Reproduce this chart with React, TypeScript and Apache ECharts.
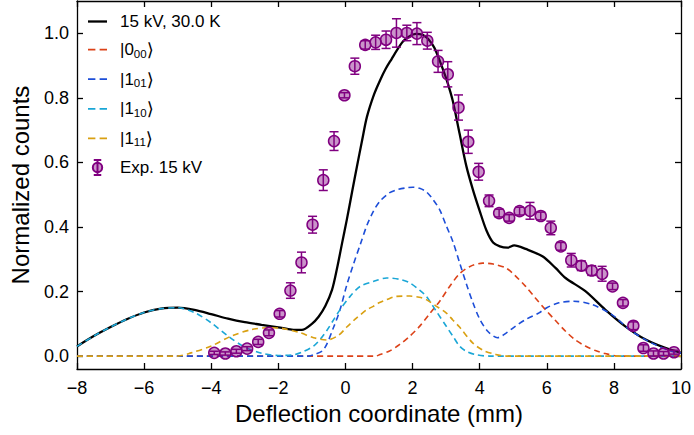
import React, { useEffect, useRef } from "react";
import * as echarts from "echarts";

// ---------- data ----------
const xTicks = [-8, -6, -4, -2, 0, 2, 4, 6, 8, 10];
const yTicks = [0, 0.2, 0.4, 0.6, 0.8, 1.0];

const totalName = "15 kV, 30.0 K";
const totalX = [-8, -7.5, -7, -6.5, -6, -5.5, -5, -4.5, -4, -3.5, -3, -2.5, -2, -1.6, -1.3, -1.0, -0.8, -0.6, -0.4, -0.25, -0.1, 0.04, 0.2, 0.34, 0.5, 0.64, 0.85, 1.03, 1.2, 1.38, 1.55, 1.72, 1.9, 2.1, 2.3, 2.46, 2.65, 2.9, 3.05, 3.2, 3.4, 3.6, 3.8, 4.0, 4.2, 4.4, 4.6, 4.83, 5.03, 5.37, 5.87, 6.26, 6.56, 7.15, 7.74, 8.33, 8.93, 9.51, 10];
const totalY = [0.030, 0.062, 0.090, 0.115, 0.135, 0.147, 0.150, 0.143, 0.130, 0.116, 0.105, 0.097, 0.089, 0.082, 0.081, 0.100, 0.122, 0.155, 0.205, 0.272, 0.350, 0.422, 0.510, 0.586, 0.670, 0.741, 0.810, 0.854, 0.890, 0.921, 0.950, 0.975, 0.990, 0.998, 0.995, 0.983, 0.955, 0.890, 0.845, 0.790, 0.690, 0.590, 0.515, 0.450, 0.390, 0.352, 0.340, 0.336, 0.343, 0.332, 0.309, 0.273, 0.242, 0.201, 0.144, 0.093, 0.052, 0.026, 0.010];

const s000Name = "|0\u2080\u2080\u27E9";
const s000X = [-8, 0.9, 1.03, 1.3, 1.62, 1.9, 2.21, 2.5, 2.81, 3.1, 3.4, 3.7, 4.09, 4.4, 4.78, 5.05, 5.37, 5.66, 5.96, 6.26, 6.56, 6.85, 7.15, 7.45, 7.74, 8.15, 10];
const s000Y = [0, 0, 0.005, 0.015, 0.036, 0.060, 0.092, 0.130, 0.170, 0.215, 0.255, 0.277, 0.288, 0.285, 0.273, 0.250, 0.216, 0.180, 0.144, 0.110, 0.077, 0.050, 0.031, 0.017, 0.008, 0, 0];

const s101Name = "|1\u2080\u2081\u27E9";
const s101X = [-8, -1.1, -0.95, -0.65, -0.35, -0.16, 0.04, 0.24, 0.44, 0.64, 0.84, 1.03, 1.3, 1.52, 1.8, 2.01, 2.21, 2.41, 2.61, 2.81, 3.0, 3.2, 3.4, 3.6, 3.8, 4.0, 4.24, 4.53, 4.8, 5.07, 5.4, 5.77, 6.0, 6.36, 6.8, 7.34, 7.93, 8.53, 9.12, 9.71, 10];
const s101Y = [0, 0, 0.004, 0.02, 0.09, 0.144, 0.22, 0.285, 0.345, 0.405, 0.45, 0.48, 0.505, 0.515, 0.521, 0.523, 0.520, 0.509, 0.485, 0.453, 0.405, 0.355, 0.290, 0.225, 0.165, 0.115, 0.077, 0.057, 0.072, 0.093, 0.115, 0.134, 0.150, 0.165, 0.170, 0.160, 0.129, 0.077, 0.041, 0.015, 0.010];

const s110Name = "|1\u2081\u2080\u27E9";
const s110X = [-8, -7.5, -7, -6.5, -6, -5.5, -5, -4.5, -4, -3.5, -3, -2.5, -2, -1.6, -1.3, -0.95, -0.75, -0.55, -0.35, -0.16, 0.14, 0.44, 0.83, 1.23, 1.6, 1.9, 2.2, 2.41, 2.7, 3.0, 3.2, 3.4, 3.6, 3.9, 4.3, 10];
const s110Y = [0.030, 0.062, 0.090, 0.115, 0.135, 0.147, 0.150, 0.135, 0.103, 0.062, 0.028, 0.009, 0.002, 0.003, 0.012, 0.031, 0.052, 0.080, 0.113, 0.144, 0.185, 0.216, 0.231, 0.242, 0.238, 0.228, 0.205, 0.185, 0.140, 0.093, 0.062, 0.031, 0.015, 0.004, 0, 0];

const s111Name = "|1\u2081\u2081\u27E9";
const s111X = [-8, -5, -4.6, -4.0, -3.4, -2.8, -2.3, -1.9, -1.34, -0.95, -0.55, -0.2, 0.04, 0.3, 0.64, 0.83, 1.0, 1.23, 1.52, 1.92, 2.2, 2.41, 2.7, 3.0, 3.2, 3.4, 3.79, 4.1, 4.48, 4.8, 10];
const s111Y = [0, 0, 0.010, 0.031, 0.062, 0.082, 0.088, 0.086, 0.072, 0.057, 0.050, 0.065, 0.090, 0.115, 0.144, 0.154, 0.165, 0.175, 0.185, 0.186, 0.182, 0.175, 0.155, 0.134, 0.112, 0.090, 0.041, 0.018, 0.005, 0, 0];

const expName = "Exp. 15 kV";
const expX = [-3.91, -3.58, -3.25, -2.93, -2.60, -2.28, -1.96, -1.64, -1.31, -0.98, -0.66, -0.34, -0.03, 0.28, 0.59, 0.90, 1.21, 1.52, 1.83, 2.13, 2.44, 2.76, 3.05, 3.37, 3.66, 3.97, 4.28, 4.58, 4.88, 5.19, 5.50, 5.82, 6.12, 6.42, 6.73, 7.03, 7.34, 7.65, 7.96, 8.27, 8.58, 8.88, 9.18, 9.48, 9.79];
const expY = [0.010, 0.008, 0.015, 0.023, 0.044, 0.072, 0.131, 0.203, 0.290, 0.407, 0.545, 0.666, 0.808, 0.898, 0.964, 0.972, 0.980, 1.001, 1.001, 0.999, 0.977, 0.913, 0.873, 0.770, 0.664, 0.571, 0.481, 0.443, 0.428, 0.449, 0.450, 0.434, 0.397, 0.340, 0.297, 0.280, 0.265, 0.255, 0.216, 0.165, 0.094, 0.025, 0.008, 0.008, 0.012];
const expErr = [0.005, 0.005, 0.006, 0.006, 0.008, 0.009, 0.010, 0.024, 0.032, 0.026, 0.032, 0.029, 0.008, 0.025, 0.013, 0.022, 0.027, 0.044, 0.024, 0.034, 0.026, 0.034, 0.039, 0.039, 0.036, 0.026, 0.018, 0.012, 0.010, 0.012, 0.026, 0.012, 0.021, 0.012, 0.021, 0.015, 0.015, 0.023, 0.010, 0.010, 0.012, 0.010, 0.008, 0.006, 0.006];

// ---------- helpers ----------
const zip = (xs: number[], ys: number[]) => xs.map((x, i) => [x, ys[i]]);
const PURPLE = "#800080";
const FONT = "'Liberation Sans', Arial, Helvetica, sans-serif";

const SOLID_ICON = "path://M0,0 H19 V2.3 H0 Z";
const DASH_ICON = "path://M0,0 H7 V1.6 H0 Z M11,0 H18 V1.6 H11 Z";
const EXP_ICON = "path://M6,0 L6,16 M2,0 L10,0 M2,16 L10,16 M11,8 A5,5 0 1 1 1,8 A5,5 0 1 1 11,8 Z";

const legendRich: Record<string, string> = {
  [totalName]: `{t|${totalName}}`,
  [s000Name]: "{t||0}{s|00}{k|\u27E9}",
  [s101Name]: "{t||1}{s|01}{k|\u27E9}",
  [s110Name]: "{t||1}{s|10}{k|\u27E9}",
  [s111Name]: "{t||1}{s|11}{k|\u27E9}",
  [expName]: `{t|${expName}}`,
};

const axisCommon = {
  type: "value" as const,
  axisLine: { show: true, onZero: false, lineStyle: { color: "#000", width: 1.3 } },
  splitLine: { show: false },
};

function dashed(name: string, xs: number[], ys: number[], color: string, z: number) {
  return {
    type: "line",
    name,
    data: zip(xs, ys),
    showSymbol: false,
    symbol: "none",
    smooth: 0.3,
    z,
    lineStyle: { color, width: 1.6, type: [6, 4] },
    itemStyle: { color },
  };
}

export default function App() {
  const ref = useRef<HTMLDivElement>(null);
  useEffect(() => {
    document.body.style.margin = "0";
    const chart = echarts.init(ref.current!, null, { renderer: "svg" });
    const option: any = {
      animation: false,
      textStyle: { fontFamily: FONT },
      grid: { left: 75, right: 11, top: 1, bottom: 66 },
      xAxis: [
        {
          ...axisCommon,
          position: "bottom",
          min: -8,
          max: 10,
          interval: 2,
          axisTick: { inside: true, length: 6, lineStyle: { color: "#000", width: 1.3 } },
          axisLabel: {
            fontSize: 18,
            color: "#000",
            margin: 10,
            fontFamily: FONT,
            formatter: (v: number) => (v < 0 ? "\u2212" + Math.abs(v) : String(v)),
          },
          name: "Deflection coordinate (mm)",
          nameLocation: "middle",
          nameGap: 30,
          nameTextStyle: { fontSize: 24, color: "#000", fontFamily: FONT },
        },
        {
          ...axisCommon,
          position: "top",
          min: -8,
          max: 10,
          interval: 2,
          axisTick: { inside: true, length: 6, lineStyle: { color: "#000", width: 1.3 } },
          axisLabel: { show: false },
        },
      ],
      yAxis: [
        {
          ...axisCommon,
          position: "left",
          min: -0.04,
          max: 1.1,
          axisTick: { inside: true, length: 6, customValues: yTicks, lineStyle: { color: "#000", width: 1.3 } },
          axisLabel: {
            customValues: yTicks,
            fontSize: 18,
            color: "#000",
            margin: 8,
            fontFamily: FONT,
            formatter: (v: number) => v.toFixed(1),
          },
          name: "Normalized counts",
          nameLocation: "middle",
          nameGap: 45,
          nameTextStyle: { fontSize: 24, color: "#000", fontFamily: FONT },
        },
        {
          ...axisCommon,
          position: "right",
          min: -0.04,
          max: 1.1,
          axisTick: { inside: true, length: 6, customValues: yTicks, lineStyle: { color: "#000", width: 1.3 } },
          axisLabel: { show: false },
        },
      ],
      legend: {
        orient: "vertical",
        left: 83,
        top: 8,
        itemWidth: 19,
        itemHeight: 15,
        itemGap: 10.6,
        data: [
          { name: totalName, icon: SOLID_ICON, itemStyle: { color: "#000", borderWidth: 0 } },
          { name: s000Name, icon: DASH_ICON, itemStyle: { borderWidth: 0 } },
          { name: s101Name, icon: DASH_ICON, itemStyle: { borderWidth: 0 } },
          { name: s110Name, icon: DASH_ICON, itemStyle: { borderWidth: 0 } },
          { name: s111Name, icon: DASH_ICON, itemStyle: { borderWidth: 0 } },
          { name: expName, icon: EXP_ICON },
        ],
        formatter: (name: string) => legendRich[name] ?? name,
        textStyle: {
          color: "#000",
          fontSize: 17,
          fontFamily: FONT,
          padding: [0, 0, 0, 8],
          rich: {
            t: { fontSize: 17, lineHeight: 20, color: "#000", fontFamily: FONT },
            s: { fontSize: 11.5, lineHeight: 11, verticalAlign: "bottom", color: "#000", fontFamily: FONT },
            k: { fontSize: 18, lineHeight: 20, color: "#000", fontFamily: "'DejaVu Sans', sans-serif" },
          },
        },
      },
      series: [
        {
          type: "line",
          name: totalName,
          data: zip(totalX, totalY),
          showSymbol: false,
          symbol: "none",
          smooth: 0.3,
          z: 2,
          lineStyle: { color: "#000", width: 2.3 },
          itemStyle: { color: "#000" },
        },
        dashed(s000Name, s000X, s000Y, "#dc4218", 3),
        dashed(s101Name, s101X, s101Y, "#1d4ed8", 4),
        dashed(s110Name, s110X, s110Y, "#1aa6d6", 5),
        dashed(s111Name, s111X, s111Y, "#d9a012", 6),
        {
          type: "custom",
          name: "errorbars",
          z: 7,
          data: expX.map((x, i) => [x, expY[i], expErr[i]]),
          encode: { x: 0, y: 1 },
          renderItem: (_p: any, api: any) => {
            const x = api.value(0);
            const y = api.value(1);
            const e = api.value(2);
            const top = api.coord([x, y + e]);
            const bot = api.coord([x, y - e]);
            const hw = 4.5;
            const st = { stroke: PURPLE, lineWidth: 1.5 };
            return {
              type: "group",
              children: [
                { type: "line", shape: { x1: top[0], y1: top[1], x2: bot[0], y2: bot[1] }, style: st },
                { type: "line", shape: { x1: top[0] - hw, y1: top[1], x2: top[0] + hw, y2: top[1] }, style: st },
                { type: "line", shape: { x1: bot[0] - hw, y1: bot[1], x2: bot[0] + hw, y2: bot[1] }, style: st },
              ],
            };
          },
        },
        {
          type: "scatter",
          name: expName,
          z: 8,
          data: zip(expX, expY),
          symbol: "circle",
          symbolSize: 11,
          itemStyle: { color: "rgba(128,0,128,0.42)", borderColor: PURPLE, borderWidth: 1.5, opacity: 1 },
        },
      ],
    };
    chart.setOption(option);
    return () => chart.dispose();
  }, []);
  return <div ref={ref} style={{ width: 694, height: 435 }} />;
}
